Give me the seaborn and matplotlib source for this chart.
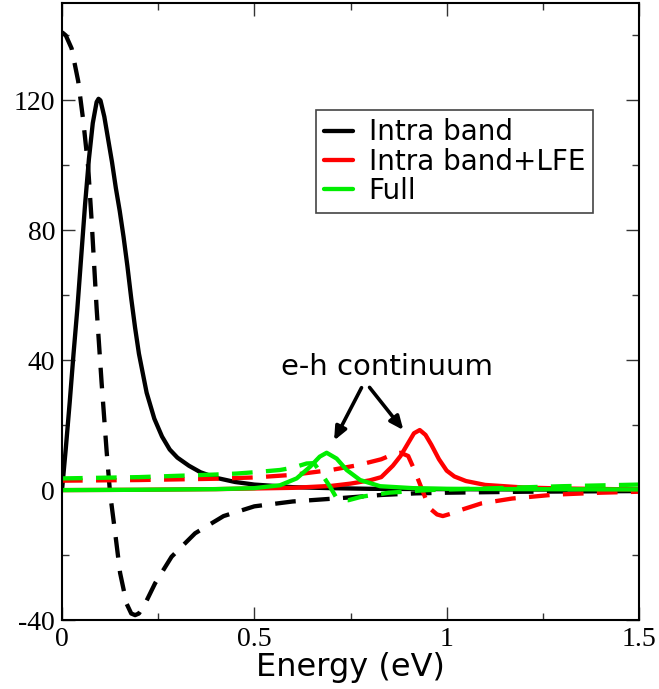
import numpy as np
import pandas as pd
import seaborn as sns
import matplotlib
matplotlib.use("Agg")
import matplotlib.pyplot as plt
from matplotlib.ticker import MultipleLocator, FixedLocator

# ---- data ----
intra_im_x = [0, 0.01, 0.02, 0.03, 0.04, 0.05, 0.06, 0.07, 0.08, 0.09, 0.095, 0.10, 0.11, 0.12,
              0.13, 0.14, 0.15, 0.16, 0.17, 0.18, 0.19, 0.20, 0.22, 0.24, 0.26, 0.28, 0.30, 0.33,
              0.36, 0.40, 0.45, 0.50, 0.60, 0.70, 0.80, 1.00, 1.20, 1.50]
intra_im_y = [0, 13, 27, 42, 56, 72, 88, 102, 113, 119.5, 120.5, 120, 115, 108,
              101, 93, 86, 78, 69, 59, 50, 42, 30, 22, 16.5, 12.5, 10, 7.5,
              5.5, 3.8, 2.5, 1.7, 0.9, 0.6, 0.4, 0.3, 0.2, 0.1]

intra_re_x = [0, 0.01, 0.025, 0.042, 0.055, 0.068, 0.077, 0.09, 0.103, 0.116, 0.125, 0.138,
              0.151, 0.168, 0.18, 0.19, 0.20, 0.216, 0.242, 0.285, 0.346, 0.42, 0.50, 0.60,
              0.72, 0.83, 0.92, 1.00, 1.20, 1.50]
intra_re_y = [141, 140, 136, 126, 114, 99.5, 83, 56, 33, 12, -1, -13,
              -25.5, -35, -38, -38.5, -38, -35, -28.7, -20.5, -13.3, -8, -5, -3.5,
              -2.5, -1.5, -1, -0.8, -0.5, -0.3]

lfe_im_x = [0, 0.2, 0.4, 0.6, 0.7, 0.75, 0.8, 0.83, 0.86, 0.88, 0.9, 0.915, 0.93, 0.945,
            0.96, 0.98, 1.0, 1.02, 1.05, 1.1, 1.2, 1.3, 1.5]
lfe_im_y = [0, 0.1, 0.3, 0.7, 1.3, 2, 3, 4, 7.5, 10.5, 14.5, 17.5, 18.5, 17,
            14, 9.5, 6, 4.2, 2.8, 1.6, 0.8, 0.5, 0.2]

lfe_re_x = [0, 0.2, 0.4, 0.5, 0.6, 0.7, 0.77, 0.83, 0.86, 0.88, 0.9, 0.915, 0.93, 0.945,
            0.96, 0.975, 0.99, 1.01, 1.04, 1.09, 1.17, 1.28, 1.4, 1.5]
lfe_re_y = [2.9, 3.1, 3.5, 3.9, 4.7, 6.2, 7.7, 9.5, 11, 11.5, 10.5, 6.5, 2, -2.5,
            -6, -7.5, -8, -7.3, -6, -4.1, -2.6, -1.4, -0.8, -0.5]

full_im_x = [0, 0.2, 0.4, 0.5, 0.567, 0.61, 0.645, 0.67, 0.688, 0.714, 0.74, 0.775, 0.827,
             0.913, 1.0, 1.2, 1.5]
full_im_y = [0, 0.1, 0.3, 0.6, 1.5, 3.6, 7.2, 10.3, 11.5, 9.7, 6.2, 3.1, 1.2,
             0.6, 0.4, 0.3, 0.2]

full_re_x = [0, 0.2, 0.4, 0.454, 0.5, 0.567, 0.6, 0.636, 0.655, 0.675, 0.697, 0.714, 0.73,
             0.745, 0.78, 0.85, 0.95, 1.1, 1.3, 1.5]
full_re_y = [3.6, 4, 4.8, 5.1, 5.5, 6.2, 6.9, 8.2, 8.3, 5, 1, -2.5, -3,
             -3.1, -2, -0.8, 0, 0.5, 1.2, 1.7]

legend_labels = ["Intra band", "Intra band+LFE", "Full"]
series_colors = ["#000000", "#ff0000", "#00ee00"]

x_ticks = [0, 0.5, 1, 1.5]
x_ticklabels = ["0", "0.5", "1", "1.5"]
y_ticks = [-40, 0, 40, 80, 120]
y_ticklabels = ["-40", "0", "40", "80", "120"]

annotation_text = "e-h continuum"

# ---- figure ----
sns.set_style("ticks")
plt.rcParams["font.family"] = ["DejaVu Sans"]
plt.rcParams["text.color"] = "black"
plt.rcParams["axes.labelcolor"] = "black"

W, H = 659, 689
fig = plt.figure(figsize=(W / 100, H / 100), dpi=100)
ax = fig.add_axes([62 / W, 1 - 620 / H, (639 - 62) / W, (620 - 3) / H])

lw = 3.1
dash = (0, (4.8, 3.1))

series = [
    (intra_im_x, intra_im_y, intra_re_x, intra_re_y),
    (lfe_im_x, lfe_im_y, lfe_re_x, lfe_re_y),
    (full_im_x, full_im_y, full_re_x, full_re_y),
]
for (xi, yi, xr, yr), lab, col in zip(series, legend_labels, series_colors):
    sns.lineplot(x=xi, y=yi, ax=ax, color=col, lw=lw, label=lab,
                 sort=False, estimator=None, legend=False)
    sns.lineplot(x=xr, y=yr, ax=ax, color=col, lw=lw, linestyle=dash,
                 sort=False, estimator=None, legend=False)

ax.set_xlim(0, 1.5)
ax.set_ylim(-40, 150)

ax.xaxis.set_major_locator(FixedLocator(x_ticks))
ax.set_xticklabels(x_ticklabels)
ax.yaxis.set_major_locator(FixedLocator(y_ticks))
ax.set_yticklabels(y_ticklabels)
ax.xaxis.set_minor_locator(MultipleLocator(0.25))
ax.yaxis.set_minor_locator(MultipleLocator(20))

ax.tick_params(which="both", direction="in", top=True, right=True,
               color="#333333", width=1.0)
ax.tick_params(which="major", length=9.5, pad=5)
ax.tick_params(which="minor", length=5)
for lab in ax.get_xticklabels() + ax.get_yticklabels():
    lab.set_fontfamily("Liberation Serif")
    lab.set_fontsize(20)
    lab.set_color("black")

for sp in ax.spines.values():
    sp.set_linewidth(1.5)
    sp.set_color("black")

ax.set_xlabel("Energy (eV)", fontsize=23, labelpad=0)
ax.set_ylabel("")

handles = [h for h in ax.get_lines() if h.get_label() in legend_labels]
leg = ax.legend(handles=handles, labels=legend_labels, loc="upper left",
                bbox_to_anchor=(0.44, 0.8266), fontsize=20, frameon=True,
                fancybox=False, edgecolor="#444444", framealpha=1,
                handlelength=1.05, handletextpad=0.55, labelspacing=0.05,
                borderpad=0.3, borderaxespad=0)
leg.get_frame().set_linewidth(1.2)
for t in leg.get_texts():
    t.set_color("black")

# annotation with two arrows
ax.text(0.845, 38, annotation_text, fontsize=21, ha="center", va="center", color="black")
arrow_kw = dict(arrowstyle="-|>,head_length=0.8,head_width=0.35", color="black", lw=2.6)
ax.annotate("", xy=(0.704, 14.5), xytext=(0.782, 32.3), arrowprops=arrow_kw)
ax.annotate("", xy=(0.892, 17.8), xytext=(0.795, 32.3), arrowprops=arrow_kw)

fig.savefig("out.png", dpi=100)
